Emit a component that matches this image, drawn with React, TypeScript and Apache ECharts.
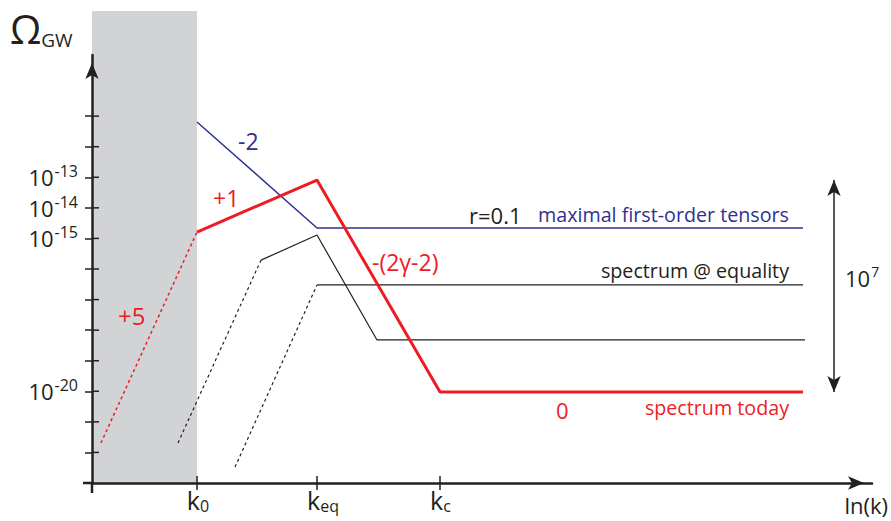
import React, { useEffect, useRef } from "react";
import * as echarts from "echarts";

const FONT = "'Open Sans', 'Noto Sans', 'DejaVu Sans', sans-serif";
const INK = "#231f20";
const RED = "#ed1c24";
const BLUE = "#2e3192";
const BAND = "#d1d3d4";

// x: ln(k) in arbitrary units, y: log10(Omega_GW)
const X_MIN = 0;
const X_MAX = 78;
const Y_MIN = -23;
const Y_MAX = -9;

const kTicks = [10.5, 22.5, 34.8];
const kSubscripts = ["0", "eq", "c"];
const yTickExponents = [-22, -21, -20, -19, -18, -17, -16, -15, -14, -13, -12, -11];
const yLabelExponents = [-20, -15, -14, -13];

const maxTensors = [[10.5, -11.19], [22.5, -14.66], [71.1, -14.66]];
const today = [[10.5, -14.79], [22.5, -13.09], [34.8, -20.02], [71.1, -20.02]];
const todayLowK = [[0.9, -21.69], [10.5, -14.79]];
const equality = [[16.9, -15.71], [22.5, -14.89], [28.5, -18.32], [71.3, -18.32]];
const equalityLowK = [[8.6, -21.69], [16.9, -15.71]];
const equality2 = [[22.5, -16.52], [71.1, -16.52]];
const equality2LowK = [[14.3, -22.48], [22.5, -16.52]];
const rangeArrowX = 74.2;
const rangeArrowTop = -13.09;
const rangeArrowBottom = -20.02;

const GRID = { left: 92, top: 55, width: 780, height: 428 };
const TICK_LEN = 7;
const LABEL_SPACERS = [2, 12, 1];

function line(data: number[][], color: string, width: number, dashed = false) {
  return {
    type: "line",
    data,
    symbol: "none",
    showSymbol: false,
    clip: false,
    silent: true,
    lineStyle: { color, width, type: dashed ? [3, 3] : "solid" },
    z: 3,
  };
}

function txt(text: string, x: number, y: number, color: string, size: number, align = "left") {
  return {
    type: "text",
    x,
    y,
    z: 10,
    style: { text, fill: color, fontSize: size, fontFamily: FONT, align, verticalAlign: "middle" },
  };
}

export default function App() {
  const ref = useRef<HTMLDivElement>(null);
  useEffect(() => {
    document.body.style.margin = "0";
    const chart = echarts.init(ref.current!, undefined, { renderer: "svg" });
    const supRich = {
      b: { fontSize: 22, fontFamily: FONT, color: INK, lineHeight: 28 },
      s: { fontSize: 16, fontFamily: FONT, color: INK, lineHeight: 16, verticalAlign: "top", padding: [0, 0, 0, 1] },
    };
    const subRich: any = {
      k: { fontSize: 25, fontFamily: FONT, color: INK, lineHeight: 28 },
      s: { fontSize: 16, fontFamily: FONT, color: INK, lineHeight: 16, verticalAlign: "bottom" },
    };
    LABEL_SPACERS.forEach((w, i) => {
      subRich["p" + i] = { width: w, fontSize: 10, lineHeight: 16 };
    });
    chart.setOption({
      animation: false,
      grid: { ...GRID, containLabel: false },
      xAxis: {
        type: "value",
        min: X_MIN,
        max: X_MAX,
        axisLine: {
          lineStyle: { color: INK, width: 2.5 },
          symbol: ["none", "arrow"],
          symbolSize: [10, 16],
          symbolOffset: [0, -8],
          onZero: false,
        },
        axisTick: { customValues: kTicks, length: TICK_LEN, lineStyle: { color: INK, width: 1.5 } },
        axisLabel: {
          customValues: kTicks,
          margin: 3,
          fontSize: 25,
          fontFamily: FONT,
          color: INK,
          formatter: (v: number) => {
            const i = kTicks.indexOf(v);
            return `{p${i}| }{k|k}{s|${kSubscripts[i] ?? ""}}`;
          },
          rich: subRich,
        },
        splitLine: { show: false },
      },
      yAxis: {
        type: "value",
        min: Y_MIN,
        max: Y_MAX,
        axisLine: {
          show: true,
          lineStyle: { color: INK, width: 2.5 },
          symbol: ["none", "arrow"],
          symbolSize: [10, 16],
          symbolOffset: [0, -8],
          onZero: false,
        },
        axisTick: { customValues: yTickExponents, length: TICK_LEN, lineStyle: { color: INK, width: 1.5 } },
        axisLabel: {
          customValues: yLabelExponents,
          margin: 14,
          fontSize: 22,
          fontFamily: FONT,
          color: INK,
          formatter: (v: number) => `{b|10}{s|${v}}`,
          rich: supRich,
        },
        splitLine: { show: false },
      },
      series: [
        line(todayLowK, RED, 1.5, true),
        line(equalityLowK, INK, 1.2, true),
        line(equality2LowK, INK, 1.2, true),
        line(equality, INK, 1.2),
        line(equality2, INK, 1.2),
        line(maxTensors, BLUE, 1.5),
        {
          ...line(today, RED, 3),
          markLine: {
            silent: true,
            symbol: ["arrow", "arrow"],
            symbolSize: [10, 16],
            label: { show: false },
            lineStyle: { color: INK, width: 1.5, type: "solid" },
            data: [[{ coord: [rangeArrowX, rangeArrowTop] }, { coord: [rangeArrowX, rangeArrowBottom] }]],
          },
        },
      ],
    });
    const toPx = (x: number, y: number) => chart.convertToPixel({ xAxisIndex: 0, yAxisIndex: 0 }, [x, y]) as number[];
    const [xl, yb] = toPx(X_MIN, Y_MIN);
    const [xk0] = toPx(kTicks[0], Y_MIN);
    const innerYTicks = yTickExponents.map((e) => {
      const [, py] = toPx(X_MIN, e);
      return { type: "line", z: 5, shape: { x1: xl, y1: py, x2: xl + TICK_LEN, y2: py }, style: { stroke: INK, lineWidth: 1.5 } };
    });
    const innerXTicks = kTicks.map((k) => {
      const [px] = toPx(k, Y_MIN);
      return { type: "line", z: 5, shape: { x1: px, y1: yb, x2: px, y2: yb - TICK_LEN }, style: { stroke: INK, lineWidth: 1.5 } };
    });
    chart.setOption({
      graphic: [
        { type: "rect", z: -10, shape: { x: xl, y: 11, width: xk0 - xl, height: yb - 11 }, style: { fill: BAND } },
        { type: "line", z: 5, shape: { x1: xl - 9, y1: yb, x2: xl, y2: yb }, style: { stroke: INK, lineWidth: 2.5 } },
        { type: "line", z: 5, shape: { x1: xl, y1: yb, x2: xl, y2: yb + 10 }, style: { stroke: INK, lineWidth: 2.5 } },
        ...innerYTicks,
        ...innerXTicks,
        {
          type: "text",
          x: 10,
          y: 28,
          z: 10,
          style: {
            text: "{o|Ω}{g|GW}",
            verticalAlign: "middle",
            rich: {
              o: { fontSize: 40, fontFamily: FONT, fill: INK, lineHeight: 42 },
              g: { fontSize: 19, fontFamily: FONT, fill: INK, lineHeight: 20, verticalAlign: "bottom" },
            },
          },
        },
        txt("-2", 238, 141, BLUE, 23),
        txt("+1", 213, 198, RED, 23),
        txt("-(2γ-2)", 372, 262, RED, 23),
        txt("+5", 118, 315, RED, 24),
        txt("r=0.1", 469, 215, INK, 22),
        txt("maximal first-order tensors", 789, 214, BLUE, 19.7, "right"),
        txt("spectrum @ equality", 789, 270, INK, 19.7, "right"),
        txt("0", 556, 410, RED, 22),
        txt("spectrum today", 789, 407, RED, 19.7, "right"),
        txt("ln(k)", 888, 505, INK, 22, "right"),
        {
          type: "text",
          x: 845,
          y: 278,
          z: 10,
          style: {
            text: "{b|10}{s|7}",
            verticalAlign: "middle",
            rich: {
              b: { fontSize: 22, fontFamily: FONT, fill: INK, lineHeight: 28 },
              s: { fontSize: 14, fontFamily: FONT, fill: INK, lineHeight: 16, verticalAlign: "top", padding: [0, 0, 0, 1] },
            },
          },
        },
      ],
    });
    return () => chart.dispose();
  }, []);
  return <div ref={ref} style={{ width: 891, height: 521 }} />;
}
